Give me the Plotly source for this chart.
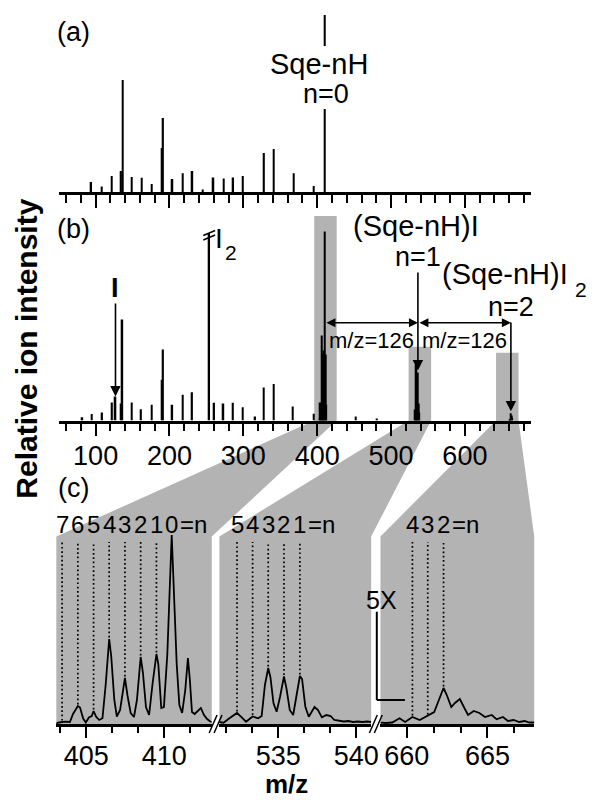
import numpy as np
import plotly.graph_objects as go

# ------------------------------------------------------------------ data
# (a) squalene (Sqe) spectrum: m/z and relative ion intensity (arb. units)
a_mz = [94, 108, 122, 134.5, 136.5, 149, 162.5, 176, 190, 191.3, 204, 218, 231, 245,
        259.5, 273.5, 286.3, 299.5, 328, 341.3, 368, 395.5, 410.48]
a_int = [10, 5.5, 16, 21, 112, 15, 14.3, 8, 44, 74, 13, 18.7, 21, 2.5,
         14.5, 13.5, 14.5, 16, 39, 43, 18.7, 6, 177]

# (b) Sqe + iodine spectrum
b_mz = [82, 94.5, 108.8, 122.2, 126.9, 134.5, 136.2, 149, 161.5, 175.7, 190, 191.3,
        203.8, 218, 230.6, 253.8, 260.5, 273, 286, 299.3, 316, 327.5, 341, 367, 395.6,
        403.45, 404.46, 405.47, 406.47, 407.48, 408.49, 409.5, 410.48, 411.52, 412.4,
        452, 481, 532.36, 533.36, 534.36, 535.37, 536.39, 537.33, 538.36,
        661.3, 662.28, 663.29, 664.15]
b_int = [3.3, 6.5, 8, 18, 24, 17, 101, 18, 11.3, 15.7, 40.7, 71,
         15.7, 25.7, 28.3, 187, 17.7, 17, 17.7, 13.3, 4, 33, 36.5, 14, 6.7,
         2, 18, 13, 85, 46, 67, 70, 189, 66, 16,
         4, 2, 11, 7.5, 56, 47.5, 48, 17, 8,
         1.6, 7.2, 5, 2.6]

# highlighted windows in (b): start m/z, end m/z, height
hl_start = [396.0, 523.8, 642.2]
hl_end = [426.4, 554.3, 672.6]
hl_top = [204.5, 73.8, 67.8]

# (c) zoomed traces
c1_mz = [403.05, 403.25, 403.65, 403.95, 404.15, 404.46, 404.6, 404.8, 404.97, 405.17,
         405.35, 405.47, 405.63, 405.83, 406.04, 406.25, 406.47, 406.6, 406.8, 406.96,
         407.17, 407.48, 407.65, 407.85, 408.06, 408.25, 408.49, 408.63, 408.83, 409.03,
         409.25, 409.5, 409.62, 409.81, 409.98, 410.2, 410.48, 410.8, 410.97, 411.15,
         411.35, 411.52, 411.64, 411.78, 411.95, 412.15, 412.35, 412.55, 412.75, 412.95,
         413.05]
c1_int = [0.5, 1.5, 2.3, 2, 10, 18, 16.5, 5.5, 1.5, 6.5,
          8, 13, 7.3, 4, 5.7, 40, 85, 68, 24, 7.5,
          14, 46, 28, 11, 7, 24, 67, 52, 17, 9,
          40, 70, 60, 16, 17, 70, 189, 60, 19, 11,
          34, 66, 45, 12, 10, 13, 16, 9, 5, 2.5,
          2]
c2_mz = [531.2, 531.5, 531.87, 532.36, 532.66, 532.94, 533.36, 533.72, 533.94, 534.15,
         534.36, 534.5, 534.7, 534.9, 535.12, 535.37, 535.53, 535.74, 535.96, 536.17,
         536.39, 536.53, 536.74, 536.96, 537.33, 537.55, 537.8, 538.09, 538.36, 538.6,
         538.9, 539.2, 539.5, 539.8, 540.1, 540.4, 540.7, 540.95]
c2_int = [2, 1.3, 5.7, 11, 6.7, 2.3, 7.5, 5.7, 8, 39,
          56, 47, 20.7, 12.3, 27.3, 47.5, 35.7, 14, 9, 27.3,
          48, 45, 17.3, 7.3, 17, 14, 6.7, 9, 8, 4,
          3.5, 2.5, 3, 2, 2.5, 2, 2.5, 2]
c3_mz = [658.37, 658.7, 659.1, 659.55, 659.9, 660.35, 660.8, 661.3, 661.7, 661.99,
         662.28, 662.48, 662.76, 662.99, 663.29, 663.57, 663.8, 664.15, 664.5, 664.85,
         665.27, 665.57, 665.96, 666.27, 666.62, 666.97, 667.3, 667.6, 667.9]
c3_int = [1.3, 1, 1.5, 5.7, 2, 7, 4, 8, 12, 24,
          36, 29, 17, 21, 25, 16, 9, 13, 11, 7,
          9, 4.7, 7, 3, 4, 2, 3, 1.5, 1.5]

# number of lost H atoms (n) labels in (c)
c1_n = ["7", "6", "5", "4", "3", "2", "1", "0"]
c1_pos = [403.45, 404.46, 405.47, 406.47, 407.48, 408.49, 409.50, 410.48]
c2_n = ["5", "4", "3", "2", "1"]
c2_pos = [532.36, 533.36, 534.36, 535.37, 536.39]
c3_n = ["4", "3", "2"]
c3_pos = [660.35, 661.30, 662.28]

ab_major = [100, 200, 300, 400, 500, 600]
c_major = [[405, 410], [535, 540], [660, 665]]

# ------------------------------------------------------------------ geometry (px)
W, H = 594, 800
FONT = "Liberation Sans, Arial, Helvetica, sans-serif"
AB_X = (59.4, 537.7)
AB_RANGE = (50, 690)
A_Y = (192.0, 15.0)
A_YMAX = 177.0
B_Y = (420.5, 216.0)
B_YMAX = 204.5
C_Y = (724.0, 530.0)
C_YMAX = 194.0
GRAY_TOP = 536.5
DOT_TOP = 182.0
SEG_X = [(57.0, 214.3), (222.0, 375.6), (385.0, 540.6)]
SEG_RANGE = [(403.08, 413.05), (531.23, 540.96), (658.37, 667.90)]


def fx(p):
    return p / W


def fy(p):
    return 1 - p / H


def xpx_ab(m):
    return AB_X[0] + (m - AB_RANGE[0]) * (AB_X[1] - AB_X[0]) / (AB_RANGE[1] - AB_RANGE[0])


def ypx_b(v):
    return B_Y[0] - v * (B_Y[0] - B_Y[1]) / B_YMAX


def P(xp, yp):
    return f"{fx(xp):.5f},{fy(yp):.5f}"


fig = go.Figure()

# spectra (a) and (b) as sticks
fig.add_trace(go.Bar(x=a_mz, y=a_int, width=2.2, marker=dict(color="black", line=dict(width=0)),
                     xaxis="x", yaxis="y", showlegend=False))
fig.add_trace(go.Bar(x=b_mz, y=b_int, width=2.2, marker=dict(color="black", line=dict(width=0)),
                     xaxis="x2", yaxis="y2", showlegend=False))

CM = dict(xanchor="center", yanchor="middle")

# zoomed traces (c)
segs = [(c1_mz, c1_int, c1_n, c1_pos, "x3"), (c2_mz, c2_int, c2_n, c2_pos, "x4"),
        (c3_mz, c3_int, c3_n, c3_pos, "x5")]
annotations = []
for i, (mz, it, nl, pos, xa) in enumerate(segs):
    dx, dy = [], []
    for k, p in enumerate(pos):
        if i == 0 and nl[k] == "0":
            continue
        bottom = float(np.interp(p, mz, it)) + 1.5
        dx += [p, p, None]
        dy += [bottom, DOT_TOP, None]
    fig.add_trace(go.Scatter(x=dx, y=dy, mode="lines", xaxis=xa, yaxis="y3",
                             line=dict(color="black", width=1.7, dash="1.7px,2.6px"),
                             showlegend=False, hoverinfo="skip"))
    fig.add_trace(go.Scatter(x=mz, y=it, mode="lines", xaxis=xa, yaxis="y3",
                             line=dict(color="black", width=1.8), showlegend=False))
    for k, p in enumerate(pos):
        annotations.append(dict(x=p, xref=xa, y=fy(524), yref="paper", text=nl[k],
                                showarrow=False, font=dict(size=24), **CM))
    annotations.append(dict(x=pos[-1], xref=xa, y=fy(524), yref="paper", text="=n",
                            xanchor="left", yanchor="middle", xshift=6.0, showarrow=False,
                            font=dict(size=24)))

# ------------------------------------------------------------------ shapes
shapes = []
for i in range(3):
    bx0, bx1 = xpx_ab(hl_start[i]), xpx_ab(hl_end[i])
    bt, bb = ypx_b(hl_top[i]), B_Y[0]
    sx0, sx1 = SEG_X[i]
    path = (f"M{P(bx0, bt)} L{P(bx1, bt)} L{P(bx1, bb)} L{P(sx1, GRAY_TOP)} "
            f"L{P(sx1, C_Y[0])} L{P(sx0, C_Y[0])} L{P(sx0, GRAY_TOP)} L{P(bx0, bb)} Z")
    shapes.append(dict(type="path", path=path, xref="paper", yref="paper",
                       fillcolor="#b3b3b3", line=dict(width=0), layer="below"))

# white gap in the (a) parent peak behind its label
pk = xpx_ab(a_mz[-1])
shapes.append(dict(type="rect", xref="paper", yref="paper", x0=fx(pk - 4), x1=fx(pk + 4),
                   y0=fy(109), y1=fy(46), fillcolor="white", line=dict(width=0), layer="above"))

# break sign on truncated I2 peak
i2 = b_mz.index(253.8)
px_i2, top_i2 = xpx_ab(b_mz[i2]), ypx_b(b_int[i2])
for off in (0, 4.5):
    shapes.append(dict(type="line", xref="paper", yref="paper",
                       x0=fx(px_i2 - 6), y0=fy(top_i2 + 2 + off),
                       x1=fx(px_i2 + 6), y1=fy(top_i2 - 3 + off),
                       line=dict(color="black", width=1.5)))

# axis break marks in (c)
for g in [(SEG_X[0][1] + SEG_X[1][0]) / 2, (SEG_X[1][1] + SEG_X[2][0]) / 2]:
    for d in (-2.5, 2.5):
        shapes.append(dict(type="line", xref="paper", yref="paper",
                           x0=fx(g + d - 4), y0=fy(C_Y[0] + 9),
                           x1=fx(g + d + 4), y1=fy(C_Y[0] - 9),
                           line=dict(color="black", width=1.5)))

# 5X scale bar
shapes.append(dict(type="line", xref="paper", yref="paper", x0=fx(381.3), x1=fx(381.3),
                   y0=fy(611.7), y1=fy(700), line=dict(color="black", width=2)))
shapes.append(dict(type="line", xref="paper", yref="paper", x0=fx(381.3), x1=fx(409.7),
                   y0=fy(700), y1=fy(700), line=dict(color="black", width=2)))

# ------------------------------------------------------------------ annotations
def txt(x, y, s, size, **kw):
    d = dict(x=x, y=y, xref="paper", yref="paper", text=s, showarrow=False,
             font=dict(size=size), borderpad=0, **CM)
    d.update(kw)
    return d


annotations += [
    txt(fx(74), fy(32), "(a)", 27),
    txt(fx(74), fy(229), "(b)", 27),
    txt(fx(74), fy(488), "(c)", 27),
    dict(x=a_mz[-1], xref="x", y=fy(64), yref="paper", text="Sqe-nH", showarrow=False,
         xshift=-6, font=dict(size=29), borderpad=0, **CM),
    dict(x=a_mz[-1], xref="x", y=fy(94), yref="paper", text="n=0", showarrow=False,
         xshift=1, font=dict(size=27), borderpad=0, **CM),
    dict(x=b_mz[i2], xref="x2", y=fy(238), yref="paper", text="I", showarrow=False,
         xshift=10, font=dict(size=28), borderpad=0, **CM),
    dict(x=b_mz[i2], xref="x2", y=fy(253), yref="paper", text="2", showarrow=False,
         xshift=22, font=dict(size=21), borderpad=0, **CM),
    txt(fx(421), fy(226), "(Sqe-nH)I", 29),
    txt(fx(511), fy(274), "(Sqe-nH)I", 29),
    txt(fx(588), fy(289), "2", 21),
    txt(fx(386), fy(600), "5X", 25),
    txt(fx(290), fy(784), "<b>m/z</b>", 26),
    txt(fx(26), fy(349), "<b>Relative ion intensity</b>", 30, textangle=-90),
]

# arrows in (b)
i_I = b_mz.index(126.9)
i_n1 = b_mz.index(536.39)
i_n2 = b_mz.index(662.28)
arrow_style = dict(showarrow=True, arrowhead=2, arrowsize=1.3, arrowwidth=1.6,
                   arrowcolor="black", standoff=0, borderpad=0)
annotations += [
    dict(x=b_mz[i_I], y=b_int[i_I], xref="x2", yref="y2", text="<b>I</b>", ax=0,
         ay=-(ypx_b(b_int[i_I]) - 288), font=dict(size=27), **arrow_style),
    dict(x=b_mz[i_n1], y=b_int[i_n1] + 2, xref="x2", yref="y2", text="n=1", ax=0,
         ay=-(ypx_b(b_int[i_n1] + 2) - 257), font=dict(size=27), **arrow_style),
    dict(x=b_mz[i_n2], y=b_int[i_n2] + 2, xref="x2", yref="y2", text="n=2", ax=0,
         ay=-(ypx_b(b_int[i_n2] + 2) - 307), font=dict(size=27), **arrow_style),
]
ARROW_H = B_Y[0] - 322.7
parent = [410.48, 536.39, 662.28]
for k in range(2):
    annotations.append(dict(x=parent[k + 1], y=ARROW_H, ax=parent[k], ay=ARROW_H,
                            xref="x2", yref="y2", axref="x2", ayref="y2", text="",
                            showarrow=True, arrowhead=2, arrowside="end+start",
                            arrowsize=1.2, arrowwidth=1.5, arrowcolor="black",
                            standoff=0, startstandoff=0))
    annotations.append(dict(x=(parent[k] + parent[k + 1]) / 2, y=B_Y[0] - 340,
                            xref="x2", yref="y2", text="m/z=126", showarrow=False,
                            font=dict(size=22), borderpad=0, **CM))

# ------------------------------------------------------------------ axes
base_x = dict(showline=True, linecolor="black", linewidth=2.5, ticks="outside",
              tickcolor="black", tickwidth=2, showgrid=False, zeroline=False,
              tickfont=dict(size=27, color="black"), fixedrange=True)

layout = dict(
    width=W, height=H, autosize=False, margin=dict(l=0, r=0, t=0, b=0),
    paper_bgcolor="white", plot_bgcolor="rgba(0,0,0,0)",
    font=dict(family=FONT, color="black"), barmode="overlay", showlegend=False,
    shapes=shapes, annotations=annotations,
)
for name, anchor, labels in (("xaxis", "y", False), ("xaxis2", "y2", True)):
    layout[name] = dict(base_x, domain=[fx(AB_X[0]), fx(AB_X[1])], range=list(AB_RANGE),
                        tickvals=ab_major, ticklen=13, showticklabels=labels,
                        ticklabelstandoff=-4, anchor=anchor,
                        minor=dict(dtick=20, tick0=0, ticklen=8, tickwidth=2,
                                   ticks="outside", tickcolor="black", showgrid=False))
layout["yaxis"] = dict(domain=[fy(A_Y[0]), fy(A_Y[1])], range=[0, A_YMAX], visible=False,
                       anchor="x", fixedrange=True)
layout["yaxis2"] = dict(domain=[fy(B_Y[0]), fy(B_Y[1])], range=[0, B_YMAX], visible=False,
                        anchor="x2", fixedrange=True)
layout["yaxis3"] = dict(domain=[fy(C_Y[0]), fy(C_Y[1])], range=[0, C_YMAX], visible=False,
                        anchor="x3", fixedrange=True)
for i, name in enumerate(["xaxis3", "xaxis4", "xaxis5"]):
    layout[name] = dict(base_x, domain=[fx(SEG_X[i][0]), fx(SEG_X[i][1])],
                        range=list(SEG_RANGE[i]), tickvals=c_major[i], ticklen=11,
                        ticklabelstandoff=-5, anchor="y3",
                        minor=dict(dtick=5 / 3, tick0=c_major[i][0], ticklen=6, tickwidth=2,
                                   ticks="outside", tickcolor="black", showgrid=False))

fig.update_layout(**layout)
fig.write_html("out.html")
